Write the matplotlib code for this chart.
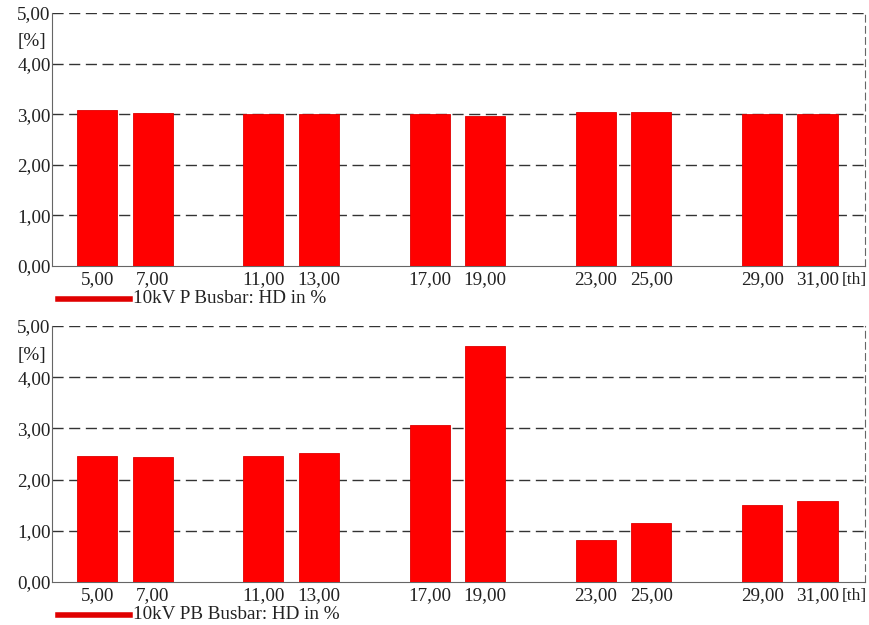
import matplotlib
matplotlib.use("Agg")
import matplotlib.pyplot as plt
from matplotlib.ticker import FuncFormatter
from matplotlib.lines import Line2D

harmonics = [5, 7, 11, 13, 17, 19, 23, 25, 29, 31]
hd_p = [3.08, 3.03, 3.00, 3.00, 3.00, 2.97, 3.04, 3.04, 3.00, 3.00]
hd_pb = [2.46, 2.45, 2.46, 2.52, 3.07, 4.61, 0.82, 1.15, 1.50, 1.58]
yticks = [0, 1, 2, 3, 4, 5]
labels = ["10kV P Busbar: HD in %", "10kV PB Busbar: HD in %"]

plt.rcParams['font.family'] = ['Liberation Serif', 'DejaVu Serif']
fs = 13.8

fig = plt.figure(figsize=(8.7, 6.25), dpi=100)
positions = [[0.0598, 0.5744, 0.934, 0.405], [0.0598, 0.0688, 0.934, 0.4096]]
fmt = FuncFormatter(lambda v, p: f"{v:.2f}".replace(".", ","))

for pos, vals, lab in zip(positions, [hd_p, hd_pb], labels):
    ax = fig.add_axes(pos)
    ax.bar(harmonics, vals, width=1.45, color='#ff0000', edgecolor='#e00000', linewidth=0.6, zorder=3)
    ax.set_xlim(3.37, 32.7)
    ax.set_ylim(0, 5)
    ax.set_yticks(yticks)
    ax.yaxis.set_major_formatter(fmt)
    ax.set_xticks(harmonics)
    ax.xaxis.set_major_formatter(fmt)
    ax.tick_params(axis='both', length=0, labelsize=fs, colors='#222222')
    ax.tick_params(axis='x', pad=4)
    ax.tick_params(axis='y', pad=1)
    for y in yticks[1:]:
        ax.axhline(y, color='#333333', linestyle=(0, (8, 4)), linewidth=1.0, zorder=1)
    ax.spines['left'].set_color('#666666')
    ax.spines['bottom'].set_color('#666666')
    ax.spines['top'].set_visible(False)
    ax.spines['right'].set_color('#666666')
    ax.spines['right'].set_linestyle((0, (6, 4)))
    ax.text(-0.042, 0.885, "[%]", transform=ax.transAxes, ha='left', va='center', fontsize=fs, color='#222222')
    ax.text(1.0025, -0.024, "[th]", transform=ax.transAxes, ha='right', va='top', fontsize=12.5, color='#222222')
    # legend entry below axes
    ax.add_line(Line2D([0.0075, 0.0955], [-0.13, -0.13], transform=ax.transAxes,
                       color='#e00000', linewidth=4, clip_on=False))
    ax.text(0.1, -0.128, lab, transform=ax.transAxes, ha='left', va='center',
            fontsize=fs, color='#222222')

fig.savefig("out.png", dpi=100)
